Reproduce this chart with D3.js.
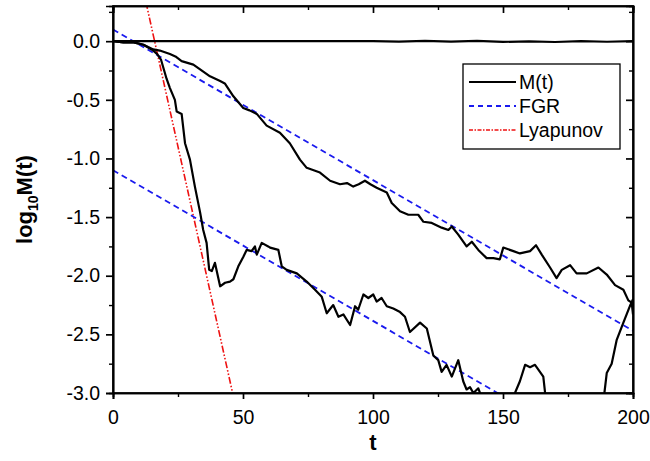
<!DOCTYPE html>
<html>
<head>
<meta charset="utf-8">
<script src="https://cdn.jsdelivr.net/npm/d3@7"></script>
<style>
    body { margin: 0; background: #fff; }
    text { font-family: "Liberation Sans", Arial, sans-serif; fill: #000; }
    .axis path, .axis line { stroke: #000; stroke-width: 1.7; }
    .axis text { font-size: 19.5px; }
    .minor line { stroke-width: 1.4; }
</style>
</head>
<body>
<div id="chart"></div>
<script>
// values: time t and log10 M(t)
var flatT = [0, 100, 110, 120, 130, 140, 150, 160, 170, 180, 190, 200];
var flatM = [0, 0, -0.003, 0.002, -0.004, 0.003, -0.006, -0.002, -0.007, 0.001, -0.005, 0];

var upperT = [0, 4, 8, 11.7, 13.5, 15.5, 18, 21.9, 24, 26.4, 30.9, 33.5, 37.3, 41.2, 43, 46.3, 50.1, 52.5, 55.3, 59.1,
    64.2, 68, 71.9, 74.5, 79.6, 83.5, 87.3, 90, 92.4, 94.5, 96.9, 99, 101.4, 105.3, 107.2, 110.4, 113.6, 117.4,
    119.4, 122.6, 126.4, 129, 130.3, 132.8, 136, 138, 140.5, 143.7, 146.3, 148.8, 150.1, 154, 156.5, 160.4, 162.7,
    164.9, 168.1, 170.6, 172.6, 175.8, 178.3, 182.2, 186.7, 189.9, 193.1, 196.3, 198.2, 199.5, 200];
var upperM = [0, -0.01, -0.01, -0.03, -0.05, -0.07, -0.08, -0.11, -0.13, -0.17, -0.2, -0.24, -0.3, -0.34, -0.36, -0.47,
    -0.57, -0.59, -0.62, -0.72, -0.78, -0.87, -1.01, -1.08, -1.12, -1.19, -1.22, -1.21, -1.24, -1.22, -1.19, -1.22,
    -1.25, -1.29, -1.38, -1.45, -1.48, -1.48, -1.54, -1.55, -1.59, -1.61, -1.58, -1.65, -1.75, -1.71, -1.78, -1.85,
    -1.85, -1.86, -1.76, -1.79, -1.81, -1.79, -1.74, -1.82, -1.93, -2.02, -1.95, -1.91, -1.98, -1.98, -1.93, -1.99,
    -2.08, -2.12, -2.21, -2.23, -2.33];

var lowerT = [0, 4, 8, 11.7, 15.5, 17, 18.5, 20.6, 21.9, 23.8, 24.5, 26.4, 27.7, 29.6, 31.5, 33.5, 34.7, 36, 37, 38,
    39.2, 41.2, 43.1, 45, 46.3, 48.2, 50.1, 51.4, 53.3, 54.6, 55.3, 57.2, 59.7, 60.4, 63.6, 64.9, 66.8, 70.7, 74.5,
    77.7, 80.3, 82.2, 84.7, 86.7, 88.6, 91.2, 93.1, 94.3, 96.3, 98.2, 100.1, 101.4, 103.3, 105.3, 107.8, 110.4,
    112.3, 114.2, 118.1, 120.7, 123.2, 125.1, 126.4, 128.3, 130.3, 132.8, 134.7, 136, 137.3, 138.6, 140.5, 142,
    145, 150, 153, 154.6, 156.5, 158.5, 160.4, 162.3, 163.6, 165.5, 166.2, 168, 175, 182, 188, 189, 189.9, 191.8,
    193.7, 196.3, 198.8, 200];
var lowerM = [0, -0.01, -0.01, -0.03, -0.08, -0.11, -0.16, -0.32, -0.4, -0.5, -0.6, -0.62, -0.87, -1.01, -1.24,
    -1.46, -1.61, -1.72, -1.95, -1.96, -1.89, -2.09, -2.06, -2.05, -2.03, -1.92, -1.84, -1.78, -1.79, -1.75, -1.82,
    -1.72, -1.75, -1.76, -1.78, -1.92, -1.95, -1.98, -2.05, -2.12, -2.18, -2.32, -2.25, -2.35, -2.33, -2.42, -2.26,
    -2.29, -2.16, -2.19, -2.16, -2.22, -2.19, -2.26, -2.28, -2.31, -2.35, -2.48, -2.4, -2.45, -2.68, -2.72, -2.82,
    -2.76, -2.86, -2.72, -2.9, -2.97, -2.95, -3.0, -2.96, -3.05, -3.15, -3.2, -3.1, -3.0, -2.9, -2.76, -2.78, -2.76,
    -2.8, -2.86, -3.0, -3.1, -3.3, -3.3, -3.1, -3.0, -2.83, -2.75, -2.55, -2.4, -2.26, -2.2];

// straight guides (end points only)
var fgrT = [0, 200];
var fgrUpperM = [0.1, -2.47];
var fgrLowerM = [-1.1, -3.67];
var lyapT = [10, 50];
var lyapM = [0.6, -3.4];

var xMajor = [0, 50, 100, 150, 200];
var xMinor = [25, 75, 125, 175];
var yMajor = [0, -0.5, -1.0, -1.5, -2.0, -2.5, -3.0];
var yMinor = [0.25, -0.25, -0.75, -1.25, -1.75, -2.25, -2.75];

var legendNames = ["M(t)", "FGR", "Lyapunov"];

function zip(ts, ms) {
    return ts.map(function (t, i) { return {t: t, m: ms[i]}; });
}

function DecayChart() {
    var self = this;
    self.init();
}

DecayChart.prototype.init = function () {
    var self = this;
    self.margin = {top: 6, right: 17, bottom: 68, left: 113};
    self.svgWidth = 650;
    self.svgHeight = 461;
    self.width = self.svgWidth - self.margin.left - self.margin.right;
    self.height = self.svgHeight - self.margin.top - self.margin.bottom;

    self.svg = d3.select("#chart").append("svg")
        .attr("width", self.svgWidth)
        .attr("height", self.svgHeight);

    self.g = self.svg.append("g")
        .attr("transform", "translate(" + self.margin.left + "," + self.margin.top + ")");

    self.x = d3.scaleLinear().domain([0, 200]).range([0, self.width]);
    self.y = d3.scaleLinear().domain([-3, 0.3]).range([self.height, 0]);
};

DecayChart.prototype.update = function () {
    var self = this;
    var g = self.g;

    g.append("clipPath").attr("id", "plotClip")
        .append("rect")
        .attr("width", self.width)
        .attr("height", self.height);

    var line = d3.line()
        .x(function (d) { return self.x(d.t); })
        .y(function (d) { return self.y(d.m); });

    var plot = g.append("g").attr("clip-path", "url(#plotClip)");

    // guides first, curves on top
    var guides = [
        {data: zip(lyapT, lyapM), color: "#ee1111", dash: "7,2,1.5,2,1.5,2", w: 1.6},
        {data: zip(fgrT, fgrUpperM), color: "#1a1aee", dash: "6,4", w: 1.8},
        {data: zip(fgrT, fgrLowerM), color: "#1a1aee", dash: "6,4", w: 1.8}
    ];
    plot.selectAll(".guide").data(guides)
        .enter()
        .append("path")
        .attr("class", "guide")
        .attr("d", function (d) { return line(d.data); })
        .attr("fill", "none")
        .attr("stroke", function (d) { return d.color; })
        .attr("stroke-width", function (d) { return d.w; })
        .attr("stroke-dasharray", function (d) { return d.dash; });

    var curves = [zip(flatT, flatM), zip(upperT, upperM), zip(lowerT, lowerM)];
    plot.selectAll(".curve").data(curves)
        .enter()
        .append("path")
        .attr("class", "curve")
        .attr("d", line)
        .attr("fill", "none")
        .attr("stroke", "#000")
        .attr("stroke-width", 2.2)
        .attr("stroke-linejoin", "round");

    // axes: bottom/left outward, top/right mirrored inward
    g.append("g").attr("class", "axis minor")
        .attr("transform", "translate(0," + self.height + ")")
        .call(d3.axisBottom(self.x).tickValues(xMinor).tickSize(4).tickFormat(""));
    g.append("g").attr("class", "axis")
        .attr("transform", "translate(0," + self.height + ")")
        .call(d3.axisBottom(self.x).tickValues(xMajor).tickSize(6).tickPadding(11)
            .tickFormat(d3.format("d")));

    g.append("g").attr("class", "axis minor")
        .call(d3.axisTop(self.x).tickValues(xMinor).tickSize(-4).tickFormat(""));
    g.append("g").attr("class", "axis")
        .call(d3.axisTop(self.x).tickValues(xMajor).tickSize(-7).tickFormat(""));

    g.append("g").attr("class", "axis minor")
        .call(d3.axisLeft(self.y).tickValues(yMinor).tickSize(4).tickFormat(""));
    g.append("g").attr("class", "axis")
        .call(d3.axisLeft(self.y).tickValues(yMajor).tickSize(7).tickPadding(6)
            .tickFormat(d3.format(".1f")));

    g.append("g").attr("class", "axis minor")
        .attr("transform", "translate(" + self.width + ",0)")
        .call(d3.axisRight(self.y).tickValues(yMinor).tickSize(-4).tickFormat(""));
    g.append("g").attr("class", "axis")
        .attr("transform", "translate(" + self.width + ",0)")
        .call(d3.axisRight(self.y).tickValues(yMajor).tickSize(-7).tickFormat(""));

    // tick labels use a plain hyphen like the original
    g.selectAll(".axis text").text(function () { return this.textContent.replace("\u2212", "-"); });

    g.append("rect")
        .attr("width", self.width)
        .attr("height", self.height)
        .attr("fill", "none")
        .attr("stroke", "#000")
        .attr("stroke-width", 1.7);

    // axis titles
    self.svg.append("text")
        .attr("x", self.margin.left + self.width / 2)
        .attr("y", 450)
        .attr("text-anchor", "middle")
        .style("font-size", "22px")
        .style("font-weight", "bold")
        .text("t");

    var yTitle = self.svg.append("text")
        .attr("transform", "translate(32," + (self.margin.top + self.height / 2) + ") rotate(-90)")
        .attr("text-anchor", "middle")
        .style("font-size", "22px")
        .style("font-weight", "bold");
    yTitle.append("tspan").text("log");
    yTitle.append("tspan").attr("dy", 6).style("font-size", "14px").text("10");
    yTitle.append("tspan").attr("dy", -6).text("M(t)");

    // legend
    var legend = self.svg.append("g").attr("transform", "translate(463,64)");
    legend.append("rect")
        .attr("width", 157)
        .attr("height", 85)
        .attr("fill", "#fff")
        .attr("stroke", "#000")
        .attr("stroke-width", 1.3);

    var legendStyle = [
        {color: "#000", dash: null, w: 2.2},
        {color: "#1a1aee", dash: "5,4", w: 1.8},
        {color: "#ee1111", dash: "4,1.5,1.5,1.5", w: 1.6}
    ];
    var rows = legend.selectAll(".legendRow").data(legendNames)
        .enter()
        .append("g")
        .attr("class", "legendRow")
        .attr("transform", function (d, i) { return "translate(0," + (18 + i * 24) + ")"; });
    rows.append("line")
        .attr("x1", 6).attr("x2", 53)
        .attr("stroke", function (d, i) { return legendStyle[i].color; })
        .attr("stroke-width", function (d, i) { return legendStyle[i].w; })
        .attr("stroke-dasharray", function (d, i) { return legendStyle[i].dash; });
    rows.append("text")
        .attr("x", 56)
        .attr("dy", "0.35em")
        .style("font-size", "19.5px")
        .text(function (d) { return d; });
};

var chart = new DecayChart();
chart.update();
</script>
</body>
</html>
